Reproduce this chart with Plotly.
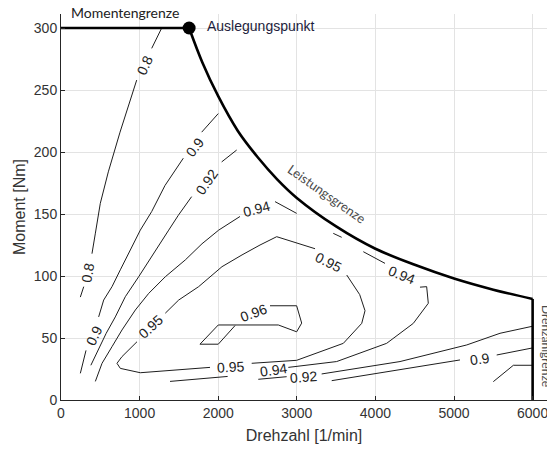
import plotly.graph_objects as go

# ---- Data ----
# Operating limits
torque_limit_n = [0, 1630]
torque_limit_T = [300, 300]
power_limit_n = [1630, 1800, 2000, 2250, 2500, 2750, 3000, 3500, 4000, 4500, 5000, 5500, 6000]
power_limit_T = [300, 272, 245, 217, 196, 178, 163, 140, 122, 109, 98, 89, 81.5]
speed_limit_n = [6000, 6000]
speed_limit_T = [81.5, 0]
design_point_n = [1630]
design_point_T = [300]

# Efficiency contour lines (None = gap for inline label)
c080_n = [1281, 1154, None, 963, 751, 602, 543, 500, 436, 394, None, 289, 246]
c080_T = [300, 283.6, None, 258, 216, 184, 169, 158.6, 134, 118, None, 91.4, 83]
c080b_n = [5500, 5755, 6000]
c080b_T = [14.8, 28, 28]

c090_n = [2001, 1790, None, 1556, 1323, 1154, 1009, 755, 649, 543, 479, None, 318, 246]
c090_T = [231, 216, None, 195, 173, 152, 137, 105, 91.4, 80.6, 67, None, 40, 21.5]
c090b_n = [3444, 5076, None, 5543, 6000]
c090b_T = [15.6, 32.3, None, 36.3, 42]

c092_n = [2235, 2044, None, 1662, 1493, 1370, 1158, 988, 818, 691, 575, 470, 380]
c092_T = [201.6, 192, None, 164, 149, 137, 115.6, 99.4, 83.3, 67, 53.8, 40, 28]
c092b_n = [2510, 2871, None, 3316, 4313, 5162, 5585, 6000]
c092b_T = [16.7, 18.8, None, 21, 31, 44.4, 53.8, 59.5]

c094_n = [437, 522, 649, 776, 946, 1116, 1327, 1582, 1794, 2006, 2277, None, 2723, 2998,
          None, 3464, 3571, None, 3846, 4122, None, 4567, 4652, 4673, 4482, 4143, 3507, 2892,
          None, 2120, 1387]
c094_T = [15, 29.6, 43, 56.5, 72.6, 86, 99.4, 113, 126, 137, 148, None, 160, 150.5,
          None, 134.4, 131.2, None, 119.6, 110.2, None, 91, 91.4, 78, 61.8, 45.7, 31, 26.3,
          None, 19, 15]

c095_n = [2532, 2744, 3232, None, 3635, 3800, 3868, 3826, 3592, 2998, 2426, None,
          1896, 1009, 755, 712, 776, 967, None, 1327, 1497, 1751, 2048, 2303, 2532]
c095_T = [125, 131.7, 122, None, 100.8, 85, 72, 61.8, 45.7, 32, 29.6, None,
          26.3, 22, 25.5, 29.6, 35, 47, None, 70, 80.6, 91.4, 107.5, 117, 125]

c096_n = [2659, 2998, 3062, 2998, 2765, 2001, 1768, 2001, 2214]
c096_T = [76, 76, 62, 55, 60.5, 60.5, 45, 45, 60]

# Inline contour labels: text, n, T, angle
label_text = ["0.8", "0.8", "0.9", "0.9", "0.92", "0.94", "0.95", "0.95", "0.94",
              "0.96", "0.95", "0.94", "0.92", "0.9"]
label_n = [1069, 346, 1705, 416, 1853, 2481, 1137, 3401, 4334, 2447, 2150, 2701, 3083, 5331]
label_T = [270, 103, 204, 52, 176, 154, 59, 111.5, 100.8, 70, 27, 24.2, 18.3, 33]
label_angle = [-65, -80, -52, -65, -55, -15, -42, 27, 22, -20, -3, -8, -4, -8]

x_ticks = [0, 1000, 2000, 3000, 4000, 5000, 6000]
y_ticks = [0, 50, 100, 150, 200, 250, 300]

# ---- Figure ----
fig = go.Figure()
line_style = dict(color="#1e1e1e", width=1)
for xs, ys in [(c080_n, c080_T), (c080b_n, c080b_T), (c090_n, c090_T), (c090b_n, c090b_T),
               (c092_n, c092_T), (c092b_n, c092b_T), (c094_n, c094_T), (c095_n, c095_T),
               (c096_n, c096_T)]:
    fig.add_trace(go.Scatter(x=xs, y=ys, mode="lines", line=line_style,
                             connectgaps=False, hoverinfo="skip", showlegend=False))

bound = dict(color="black", width=2.6)
fig.add_trace(go.Scatter(x=torque_limit_n, y=torque_limit_T, mode="lines", line=bound, showlegend=False))
fig.add_trace(go.Scatter(x=power_limit_n, y=power_limit_T, mode="lines",
                         line=dict(color="black", width=2.6, shape="spline", smoothing=1.0), showlegend=False))
fig.add_trace(go.Scatter(x=speed_limit_n, y=speed_limit_T, mode="lines", line=bound, showlegend=False))
fig.add_trace(go.Scatter(x=design_point_n, y=design_point_T, mode="markers",
                         marker=dict(color="black", size=13), showlegend=False, cliponaxis=False))

for t, xn, yt, ang in zip(label_text, label_n, label_T, label_angle):
    fig.add_annotation(x=xn, y=yt, text=t, showarrow=False, textangle=ang,
                       font=dict(family="Liberation Sans, Arial", size=14, color="#222222"))

fig.add_annotation(x=814, xref="x", y=1.0026, yref="paper", yanchor="middle", text="Momentengrenze",
                   showarrow=False, font=dict(family="Lato, Open Sans", size=14, color="#222222"))
fig.add_annotation(x=1832, y=302, text="Auslegungspunkt", showarrow=False, xanchor="left",
                   font=dict(family="Liberation Sans Narrow, Liberation Sans", size=14, color="#1d1d3c"))
fig.add_annotation(x=3384, y=166, text="Leistungsgrenze", showarrow=False, textangle=35,
                   font=dict(family="Lato, Open Sans", size=13, color="#4a4a4a"))
fig.add_annotation(x=0.999, xref="paper", xanchor="center", y=44, yref="y", yanchor="middle",
                   text="Drehzahlgrenze", showarrow=False, textangle=90,
                   font=dict(family="Lato, Open Sans", size=12, color="#4a4a4a"))

axis_common = dict(showgrid=True, gridcolor="#e3e3e3", gridwidth=1, zeroline=False,
                   showline=True, linecolor="#262626", linewidth=1,
                   ticks="inside", ticklen=4, tickcolor="#262626",
                   tickfont=dict(family="Liberation Sans, Arial", size=14, color="#333333"))
fig.update_xaxes(range=[0, 6183], tickvals=x_ticks, ticklabeloverflow="allow",
                 title=dict(text="Drehzahl [1/min]", font=dict(family="Liberation Sans, Arial", size=16, color="#333333"),
                            standoff=10),
                 **axis_common)
fig.update_yaxes(range=[0, 311.3], tickvals=y_ticks,
                 title=dict(text="Moment [Nm]", font=dict(family="Liberation Sans, Arial", size=16, color="#333333"),
                            standoff=4),
                 **axis_common)
fig.update_layout(width=547, height=452, margin=dict(l=61, r=0, t=14, b=52),
                  plot_bgcolor="white", paper_bgcolor="white", showlegend=False)

fig.write_html("out.html")
